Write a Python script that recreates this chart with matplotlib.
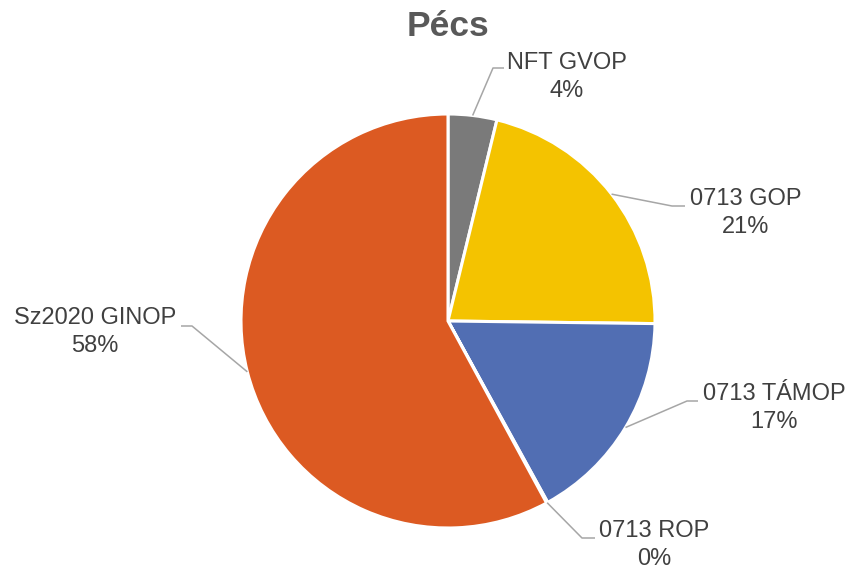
import matplotlib.pyplot as plt
import numpy as np

plt.rcParams['font.family'] = ['Liberation Sans', 'DejaVu Sans']

# data, clockwise from the top
labels = ['NFT GVOP', '0713 GOP', '0713 TÁMOP', '0713 ROP', 'Sz2020 GINOP']
shares = [3.8, 21.4, 16.8, 0.1, 57.9]
colors = ['#7a7a7a', '#f4c300', '#516eb3', '#70ad47', '#dc5a22']

# label layout in pixels: (bend x, bend y, end x, text x, text y, align)
label_pos = [
    (493, 68, 504, 507, 77, 'left'),
    (672, 206, 685, 690, 213, 'left'),
    (687, 401, 698, 703, 408, 'left'),
    (582, 538, 595, 599, 545, 'left'),
    (192, 326, 181, 176, 332, 'right'),
]

W, H = 852, 569
cx, cy, R = 448, 321, 207


def to_data(px, py):
    return (px - cx) / R, (cy - py) / R


fig = plt.figure(figsize=(W / 100, H / 100), dpi=100)
ax = fig.add_axes([0, 0, 1, 1])
wedges, _ = ax.pie(shares, colors=colors, startangle=90, counterclock=False,
                   radius=1, wedgeprops=dict(edgecolor='white', linewidth=2.2))
ax.set_xlim(-cx / R, (W - cx) / R)
ax.set_ylim(-(H - cy) / R, cy / R)
ax.axis('off')

total = sum(shares)
cum = 0
for lab, val, pos in zip(labels, shares, label_pos):
    mid = (cum + val / 2) / total * 2 * np.pi
    cum += val
    sx, sy = np.sin(mid), np.cos(mid)
    bx, by = to_data(pos[0], pos[1])
    ex, _ = to_data(pos[2], pos[1])
    ax.plot([sx, bx, ex], [sy, by, by], color='#a6a6a6', lw=1.1,
            solid_capstyle='butt')
    tx, ty = to_data(pos[3], pos[4])
    ax.text(tx, ty, f'{lab}\n{round(val):.0f}%', ha=pos[5], va='center',
            multialignment='center', fontsize=17, color='#404040',
            linespacing=1.3)

tx, ty = to_data(448, 26)
ax.text(tx, ty, 'Pécs', ha='center', va='center', fontsize=25.5,
        fontweight='bold', color='#595959')

fig.savefig('out.png', dpi=100)
